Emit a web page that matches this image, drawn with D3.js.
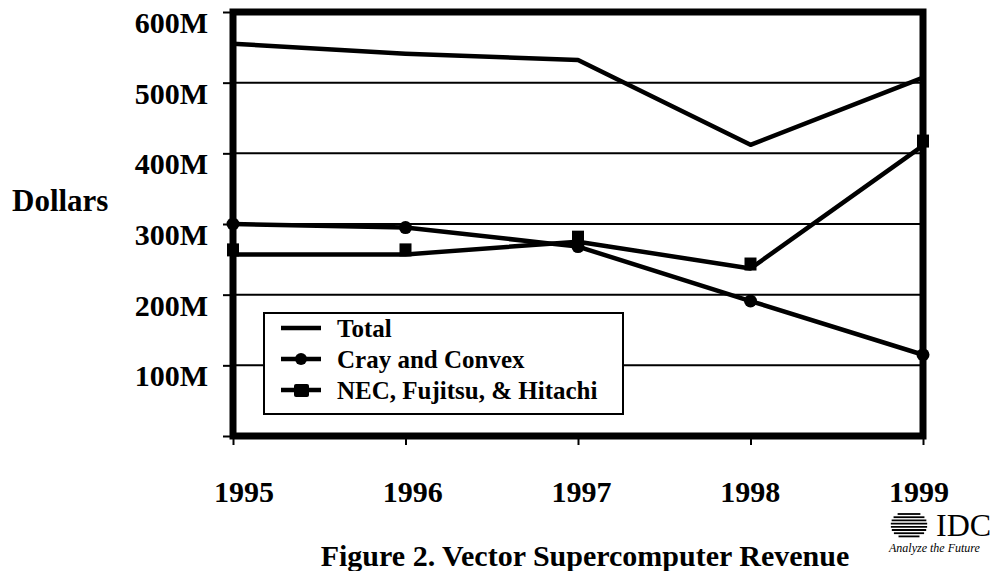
<!DOCTYPE html>
<html>
<head>
<meta charset="utf-8">
<script src="https://cdn.jsdelivr.net/npm/d3@7"></script>
<style>
  body { margin: 0; background: #fff; }
  svg text { font-family: "Liberation Serif", "Times New Roman", "DejaVu Serif", serif; font-weight: bold; fill: #000; }
</style>
</head>
<body>
<svg width="1005" height="571"></svg>
<script>
let width = 1005;
let height = 571;

let years = ["1995", "1996", "1997", "1998", "1999"];
let yTicks = [0, 100, 200, 300, 400, 500, 600];
let total = [555, 541, 532, 412, 507];
let cray = [300, 295, 268, 191, 115];
let nec = [257, 257, 275, 237, 411];
let legendLabels = ["Total", "Cray and Convex", "NEC, Fujitsu, & Hitachi"];

const svg = d3.select("svg")
    .attr("viewBox", [0, 0, width, height])
    .attr("font-family", "Liberation Serif, serif");

let x = d3.scalePoint().domain(years).range([233, 923]);
let xLabel = d3.scalePoint().domain(years).range([244, 919]);
let y = d3.scaleLinear().domain([0, 600]).range([436, 12]);

// gridlines
svg.append("g")
    .selectAll("line")
    .data(yTicks.filter(d => d > 0 && d < 600))
    .join("line")
    .attr("x1", x.range()[0]).attr("x2", x.range()[1])
    .attr("y1", d => y(d)).attr("y2", d => y(d))
    .attr("stroke", "#000").attr("stroke-width", 2);

// axes (ticks only, labels drawn separately)
svg.append("g")
    .attr("transform", `translate(${x.range()[0]},0)`)
    .call(d3.axisLeft(y).tickValues(yTicks).tickSize(10).tickFormat(""))
    .call(g => g.select(".domain").remove())
    .call(g => g.selectAll("line").attr("stroke-width", 2));

svg.append("g")
    .attr("transform", `translate(0,${y(0)})`)
    .call(d3.axisBottom(x).tickSize(9).tickFormat(""))
    .call(g => g.select(".domain").remove())
    .call(g => g.selectAll("line").attr("stroke-width", 2));

// y labels
svg.append("g")
    .selectAll("text")
    .data(yTicks.filter(d => d > 0))
    .join("text")
    .attr("x", 208)
    .attr("y", d => y(d) + 21)
    .attr("text-anchor", "end")
    .attr("font-size", 30)
    .text(d => d + "M");

svg.append("text")
    .attr("x", 12).attr("y", 211)
    .attr("font-size", 31)
    .text("Dollars");

// x labels
svg.append("g")
    .selectAll("text")
    .data(years)
    .join("text")
    .attr("x", d => xLabel(d))
    .attr("y", 502)
    .attr("text-anchor", "middle")
    .attr("font-size", 30)
    .text(d => d);

// series
let line = d3.line().x((d, i) => x(years[i])).y(d => y(d));
[total, cray, nec].forEach(s => {
    svg.append("path")
        .attr("d", line(s))
        .attr("fill", "none")
        .attr("stroke", "#000")
        .attr("stroke-width", 4.5)
        .attr("stroke-linejoin", "round");
});

svg.append("g")
    .selectAll("circle")
    .data(cray)
    .join("circle")
    .attr("cx", (d, i) => x(years[i]))
    .attr("cy", d => y(d))
    .attr("r", 6.5);

svg.append("g")
    .selectAll("rect")
    .data(nec)
    .join("rect")
    .attr("x", (d, i) => x(years[i]) - 6)
    .attr("y", d => y(d) - 11)
    .attr("width", 12)
    .attr("height", 13);

// frame
svg.append("rect")
    .attr("x", x.range()[0]).attr("y", y(600))
    .attr("width", x.range()[1] - x.range()[0])
    .attr("height", y(0) - y(600))
    .attr("fill", "none")
    .attr("stroke", "#000")
    .attr("stroke-width", 7);

// legend
const legend = svg.append("g");
legend.append("rect")
    .attr("x", 264).attr("y", 313)
    .attr("width", 359).attr("height", 101)
    .attr("fill", "#fff")
    .attr("stroke", "#000")
    .attr("stroke-width", 2);

legendLabels.forEach((label, i) => {
    let ly = 328 + i * 31;
    legend.append("line")
        .attr("x1", 281).attr("x2", 321)
        .attr("y1", ly).attr("y2", ly)
        .attr("stroke", "#000").attr("stroke-width", 4.5);
    if (i === 1) legend.append("circle").attr("cx", 301).attr("cy", ly).attr("r", 6);
    if (i === 2) legend.append("rect").attr("x", 294).attr("y", ly - 6).attr("width", 15).attr("height", 13).attr("rx", 2);
    legend.append("text")
        .attr("x", 337).attr("y", ly + 9)
        .attr("font-size", 25)
        .text(label);
});

// title
svg.append("text")
    .attr("x", 585).attr("y", 566)
    .attr("text-anchor", "middle")
    .attr("font-size", 30)
    .text("Figure 2. Vector Supercomputer Revenue");

// IDC logo
const logo = svg.append("g");
d3.range(8).forEach(i => {
    let cy = 514 + i * 3.2;
    let half = Math.sqrt(Math.max(0, 150 - (cy - 525) ** 2));
    logo.append("line")
        .attr("x1", 909 - half - 6).attr("x2", 909 + half + 6)
        .attr("y1", cy).attr("y2", cy)
        .attr("stroke", "#000").attr("stroke-width", 1.8);
});
logo.append("text")
    .attr("x", 936).attr("y", 536)
    .attr("font-size", 32)
    .style("font-weight", "normal")
    .text("IDC");
logo.append("text")
    .attr("x", 889).attr("y", 552)
    .attr("font-size", 12)
    .style("font-style", "italic")
    .style("font-weight", "normal")
    .text("Analyze the Future");
</script>
</body>
</html>
